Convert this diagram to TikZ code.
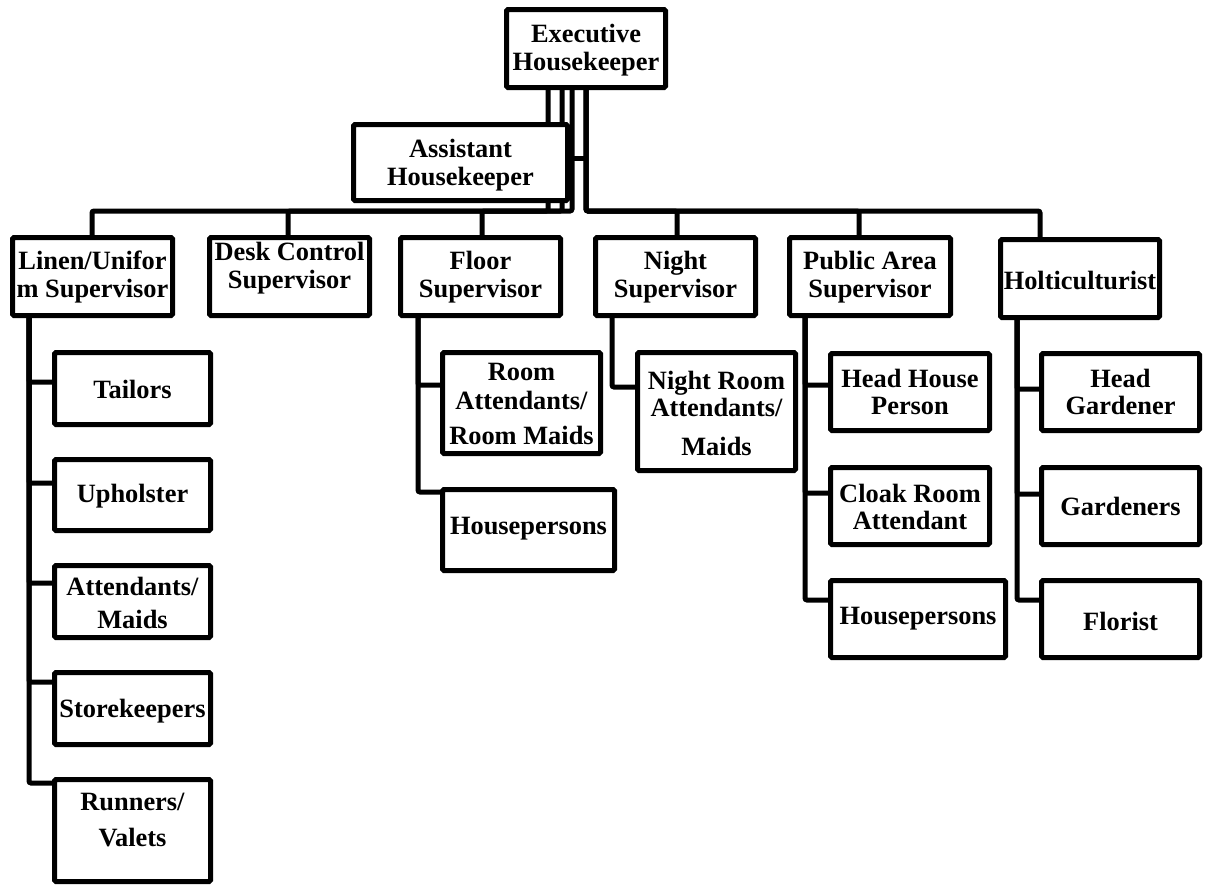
\documentclass[tikz,border=0pt]{standalone}
\usepackage{fontspec}
\setmainfont{Liberation Serif}
\usetikzlibrary{backgrounds}
% \obox{name}{x1}{y1}{x2}{y2}{text y}{text}: box given by its outer edges
\newcommand\obox[7]{%
  \node[ob, minimum width={#4-#2-5}, minimum height={#5-#3-5}] (#1) at ({(#2+#4)/2},{(#3+#5)/2}) {};
  \node[txt] (#1-t) at ({(#2+#4)/2},#6) {#7};}
\begin{document}
\begin{tikzpicture}[x=1pt,y=-1pt,
  conn/.style={line width=5pt, rounded corners=2pt},
  ob/.style={draw, line width=5pt, fill=white, rounded corners=1.5pt, inner sep=0pt},
  txt/.style={font=\bfseries\fontsize{26.4}{27.5}\selectfont, align=center, inner sep=0pt}]
\useasboundingbox (0,0) rectangle (1205,887);

% top levels
\obox{exec}{504}{7}{668}{90}{50}{Executive\\Housekeeper}
\obox{asst}{351}{122}{570}{203}{165}{Assistant\\Housekeeper}

% supervisors
\obox{linen}{10}{235}{175}{318}{277}{Linen/Unifor\\m Supervisor}
\obox{desk}{207}{235}{372}{318}{268}{Desk Control\\Supervisor}
\obox{floor}{398}{235}{563}{318}{277}{Floor\\Supervisor}
\obox{night}{593}{235}{758}{318}{277}{Night\\Supervisor}
\obox{pub}{787}{235}{953}{318}{277}{Public Area\\Supervisor}
\obox{hol}{998}{237}{1162}{320}{280}{Holticulturist}

% linen / uniform staff
\obox{tai}{52}{350}{213}{427}{389}{Tailors}
\obox{uph}{52}{457}{213}{533}{496}{Upholster}
\obox{att}{52}{563}{213}{640}{603}{Attendants/\\[5pt]Maids}
\obox{sto}{52}{670}{213}{747}{711}{Storekeepers}
\obox{run}{52}{777}{213}{884}{820}{Runners/\\[9pt]Valets}

% floor staff
\obox{ram}{440}{350}{603}{456}{404}{Room\\[1pt]Attendants/\\[8pt]Room Maids}
\obox{hp1}{440}{487}{617}{573}{529}{Housepersons}

% night staff
\obox{nra}{635}{350}{798}{473}{413}{Night Room\\Attendants/\\[11pt]Maids}

% public area staff
\obox{hhp}{828}{351}{992}{433}{392}{Head House\\Person}
\obox{clk}{828}{465}{992}{547}{507}{Cloak Room\\Attendant}
\obox{hp2}{828}{578}{1008}{660}{619}{Housepersons}

% horticulture staff
\obox{hgd}{1039}{351}{1202}{433}{392}{Head\\Gardener}
\obox{gdn}{1039}{465}{1202}{547}{506}{Gardeners}
\obox{flo}{1039}{578}{1202}{660}{621}{Florist}

\begin{pgfonlayer}{background}
  % bus and drops from the executive housekeeper
  \coordinate (busy) at (0,211);
  \coordinate (jA) at (548,0);
  \coordinate (jB) at (562,0);
  \coordinate (jC) at (572,0);
  \coordinate (jR) at (586,0);
  \coordinate (dLin) at (92,211);
  \coordinate (dDes) at (288,211);
  \coordinate (dFlo) at (482,211);
  \coordinate (dNig) at (677,211);
  \coordinate (dPub) at (859,211);
  \coordinate (dHol) at (1040,211);
  \draw[conn] (exec.south -| jA) -- (jA |- busy) -- (dLin) -- (dLin |- linen.north);
  \draw[conn] (exec.south -| jB) -- (jB |- busy) -- (dDes) -- (dDes |- desk.north);
  \draw[conn] (exec.south -| jC) -- (jC |- busy) -- (dFlo) -- (dFlo |- floor.north);
  \draw[conn] (exec.south -| jR) -- (jR |- busy) -- (dNig) -- (dNig |- night.north);
  \draw[conn] (exec.south -| jR) -- (jR |- busy) -- (dPub) -- (dPub |- pub.north);
  \draw[conn] (exec.south -| jR) -- (jR |- busy) -- (dHol) -- (dHol |- hol.north);
  \coordinate (aJ) at (586,158);
  \draw[conn] (aJ) -- (aJ -| asst.east);

  % linen / uniform supervisor
  \coordinate (lA) at (29,382);
  \coordinate (lB) at (29,483);
  \coordinate (lC) at (29,583);
  \coordinate (lD) at (29,682);
  \coordinate (lE) at (29,783);
  \draw[conn] (linen.south -| lA) -- (lA) -- (lA -| tai.west);
  \draw[conn] (linen.south -| lB) -- (lB) -- (lB -| uph.west);
  \draw[conn] (linen.south -| lC) -- (lC) -- (lC -| att.west);
  \draw[conn] (linen.south -| lD) -- (lD) -- (lD -| sto.west);
  \draw[conn] (linen.south -| lE) -- (lE) -- (lE -| run.west);

  % floor supervisor
  \coordinate (fA) at (418,385);
  \coordinate (fB) at (418,492);
  \draw[conn] (floor.south -| fA) -- (fA) -- (fA -| ram.west);
  \draw[conn] (floor.south -| fB) -- (fB) -- (fB -| hp1.west);

  % night supervisor
  \coordinate (nA) at (612,387);
  \draw[conn] (night.south -| nA) -- (nA) -- (nA -| nra.west);

  % public area supervisor
  \coordinate (pA) at (805,385);
  \coordinate (pB) at (805,493);
  \coordinate (pC) at (805,600);
  \draw[conn] (pub.south -| pA) -- (pA) -- (pA -| hhp.west);
  \draw[conn] (pub.south -| pB) -- (pB) -- (pB -| clk.west);
  \draw[conn] (pub.south -| pC) -- (pC) -- (pC -| hp2.west);

  % horticulturist
  \coordinate (hA) at (1017,389);
  \coordinate (hB) at (1017,494);
  \coordinate (hC) at (1017,600);
  \draw[conn] (hol.south -| hA) -- (hA) -- (hA -| hgd.west);
  \draw[conn] (hol.south -| hB) -- (hB) -- (hB -| gdn.west);
  \draw[conn] (hol.south -| hC) -- (hC) -- (hC -| flo.west);
\end{pgfonlayer}
\end{tikzpicture}
\end{document}
